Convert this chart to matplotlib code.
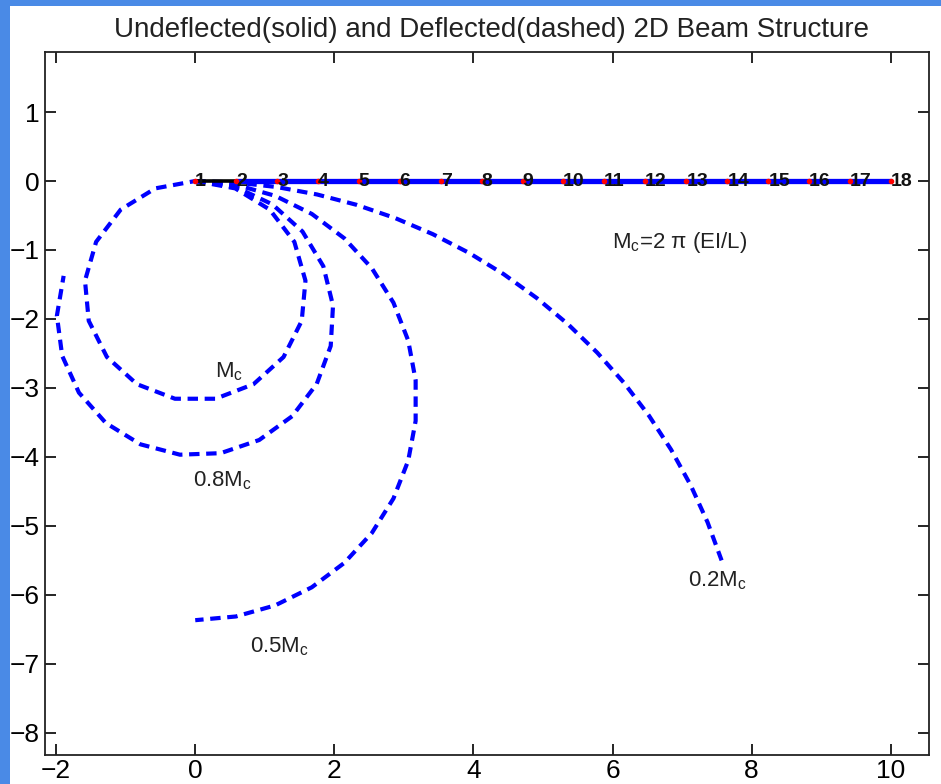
"""
2D beam: undeflected (solid) vs deflected (dashed) shapes under end moment
"""

import matplotlib
matplotlib.use('Agg')
import matplotlib.pyplot as plt
from matplotlib.patches import Rectangle

plt.rcParams['font.family'] = ['Liberation Sans', 'DejaVu Sans']
plt.rcParams['mathtext.fontset'] = 'custom'
plt.rcParams['mathtext.rm'] = 'Liberation Sans'
plt.rcParams['mathtext.it'] = 'Liberation Sans'

# undeflected beam nodes (1..18)
node_x = [0.00, 0.59, 1.18, 1.76, 2.35, 2.94, 3.53, 4.12, 4.71,
          5.29, 5.88, 6.47, 7.06, 7.65, 8.24, 8.82, 9.41, 10.00]
node_y = [0.0] * 18
node_ids = [str(i) for i in range(1, 19)]

# deflected shapes, node coordinates
mc_x = [0.000, 0.575, 1.072, 1.425, 1.585, 1.531, 1.270, 0.838, 0.292,
        -0.292, -0.838, -1.270, -1.531, -1.585, -1.425, -1.072, -0.575, 0.000]
mc_y = [0.000, -0.107, -0.415, -0.882, -1.445, -2.027, -2.551, -2.945, -3.156,
        -3.156, -2.945, -2.551, -2.027, -1.445, -0.882, -0.415, -0.107, 0.000]

m08_x = [0.000, 0.580, 1.109, 1.542, 1.842, 1.981, 1.948, 1.747, 1.394,
         0.920, 0.366, -0.220, -0.787, -1.285, -1.672, -1.913, -1.989, -1.892]
m08_y = [0.000, -0.086, -0.338, -0.732, -1.236, -1.806, -2.391, -2.941, -3.409,
         -3.754, -3.945, -3.967, -3.817, -3.508, -3.068, -2.534, -1.953, -1.375]

m05_x = [0.000, 0.585, 1.150, 1.676, 2.144, 2.540, 2.850, 3.062, 3.169,
         3.169, 3.062, 2.850, 2.540, 2.144, 1.676, 1.150, 0.585, 0.000]
m05_y = [0.000, -0.054, -0.215, -0.477, -0.831, -1.265, -1.764, -2.312, -2.889,
         -3.477, -4.054, -4.602, -5.101, -5.535, -5.889, -6.151, -6.312, -6.366]

m02_x = [0.000, 0.588, 1.172, 1.751, 2.319, 2.874, 3.415, 3.937, 4.436,
         4.911, 5.361, 5.780, 6.167, 6.523, 6.842, 7.124, 7.366, 7.568]
m02_y = [0.000, -0.022, -0.087, -0.195, -0.345, -0.537, -0.770, -1.042, -1.351,
         -1.697, -2.077, -2.488, -2.928, -3.400, -3.894, -4.411, -4.946, -5.499]

x_ticks = [-2, 0, 2, 4, 6, 8, 10]
y_ticks = [1, 0, -1, -2, -3, -4, -5, -6, -7, -8]

fig = plt.figure(figsize=(9.41, 7.84), dpi=100, facecolor='#4a8ae6')
# white slide area inside the blue frame
fig.patches.append(Rectangle((10 / 941, 0), 1, 1 - 6 / 784, transform=fig.transFigure,
                             facecolor='white', edgecolor='none', zorder=-10))

ax = fig.add_axes([45 / 941, 29 / 784, 884 / 941, 703 / 784])
ax.set_facecolor('white')

dash_kw = dict(color='#0000ff', linestyle='--', linewidth=3.0,
               dashes=(2.5, 1.6), dash_capstyle='butt')
for xs, ys in [(mc_x, mc_y), (m08_x, m08_y), (m05_x, m05_y), (m02_x, m02_y)]:
    ax.plot(xs, ys, zorder=2, **dash_kw)

# undeflected beam: first element black, rest blue
ax.plot(node_x[1:], node_y[1:], color='#0000ff', linewidth=3.8, zorder=3,
        solid_capstyle='butt')
ax.plot(node_x[:2], node_y[:2], color='black', linewidth=2.6, zorder=3,
        solid_capstyle='butt')
ax.plot(node_x, node_y, linestyle='none', marker='.', markersize=6,
        color='red', zorder=4)
for x, y, s in zip(node_x, node_y, node_ids):
    ax.text(x, y, s, ha='left', va='center', fontsize=14, fontweight='bold',
            color='#111111', zorder=5)

txt_kw = dict(fontsize=16, color='#222222', ha='left', va='baseline')
ax.text(5.99, -0.97, r'$\mathrm{M_{c}}$=2 $\pi$ (EI/L)', **txt_kw)
ax.text(0.29, -2.84, r'$\mathrm{M_{c}}$', **txt_kw)
ax.text(-0.03, -4.43, r'0.8$\mathrm{M_{c}}$', **txt_kw)
ax.text(0.79, -6.83, r'0.5$\mathrm{M_{c}}$', **txt_kw)
ax.text(7.08, -5.88, r'0.2$\mathrm{M_{c}}$', **txt_kw)

ax.set_xlim(-2.16, 10.55)
ax.set_ylim(-8.32, 1.87)
ax.set_xticks(x_ticks)
ax.set_yticks(y_ticks)
ax.tick_params(direction='in', length=8, width=1.2, top=True, right=True,
               colors='black')
ax.tick_params(axis='x', labelsize=19, pad=3)
ax.tick_params(axis='y', labelsize=19, pad=4)
for sp in ax.spines.values():
    sp.set_linewidth(1.3)
    sp.set_color('#222222')

fig.text(491 / 941, 1 - 30 / 784,
         'Undeflected(solid) and Deflected(dashed) 2D Beam Structure',
         ha='center', va='center', fontsize=20, color='#222222')

fig.savefig('out.png', dpi=100, facecolor=fig.get_facecolor())
